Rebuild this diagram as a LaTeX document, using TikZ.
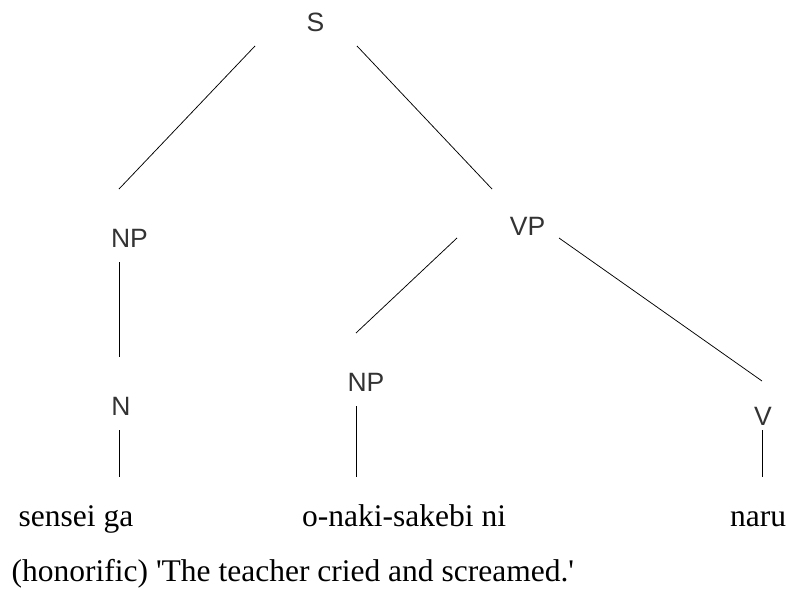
\documentclass[tikz,border=0pt]{standalone}
\usepackage{fontspec}
\setmainfont{Liberation Serif}
\newfontfamily\labelfont{Liberation Sans}
\definecolor{labelgray}{HTML}{333333}
\begin{document}
\begin{tikzpicture}[x=1pt,y=-1pt,
  cat/.style={inner sep=0pt,font=\labelfont\fontsize{26.5}{29}\selectfont,text=labelgray},
  word/.style={inner sep=0pt,anchor=base west,font=\fontsize{31.5}{34}\selectfont,text=black},
  branch/.style={draw=black,line width=0.75pt}]
\useasboundingbox (0,0) rectangle (787,589);
\node[cat] (S) at (315.5,22.5) {S};
\node[cat] (np1) at (129.5,238) {NP};
\node[cat] (n) at (121,406) {N};
\node[cat] (vp) at (527.5,226) {VP};
\node[cat] (np2) at (366,382) {NP};
\node[cat] (v) at (763,416.5) {V};
\node[word] (sensei) at (18.5,526) {sensei ga};
\node[word] (onaki) at (302,526) {o-naki-sakebi ni};
\node[word] (naru) at (730,526) {naru};
\node[word] (gloss) at (11.5,581) {(honorific) \textquotesingle The teacher cried and screamed.\textquotesingle};
\draw[branch] ([shift={(-60.5,23.5)}]S.center) -- ([shift={(-10.5,-49)}]np1.center);
\draw[branch] ([shift={(41.5,23.5)}]S.center) -- ([shift={(-35.5,-37)}]vp.center);
\draw[branch] ([shift={(-10.5,24)}]np1.center) -- ([shift={(-2,-49)}]n.center);
\draw[branch] ([shift={(-2,24)}]n.center) -- ([shift={(100.5,-49)}]sensei.base west);
\draw[branch] ([shift={(-70.5,12)}]vp.center) -- ([shift={(-10,-49)}]np2.center);
\draw[branch] ([shift={(31.5,12)}]vp.center) -- ([shift={(-1,-35.5)}]v.center);
\draw[branch] ([shift={(-10,24)}]np2.center) -- ([shift={(54,-49)}]onaki.base west);
\draw[branch] ([shift={(-1,13.5)}]v.center) -- ([shift={(32,-49)}]naru.base west);
\end{tikzpicture}
\end{document}
